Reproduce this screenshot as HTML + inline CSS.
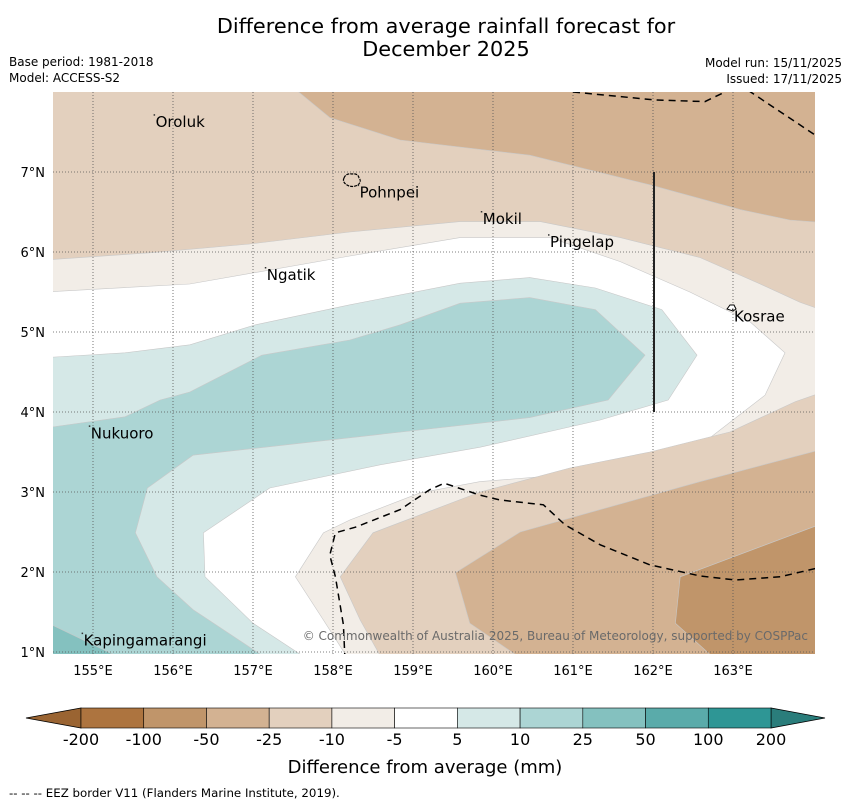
<!DOCTYPE html>
<html><head><meta charset="utf-8">
<style>
body{margin:0;background:#fff;font-family:"DejaVu Sans","Liberation Sans",sans-serif;}
#wrap{position:relative;width:850px;height:804px;overflow:hidden;}
svg text{font-family:"DejaVu Sans","Liberation Sans",sans-serif;}
</style></head>
<body>
<div id="wrap">
<svg id="svg" width="850" height="804" viewBox="0 0 850 804">
<text x="446" y="33" font-size="20.8" text-anchor="middle">Difference from average rainfall forecast for</text>
<text x="446" y="56" font-size="20.8" text-anchor="middle">December 2025</text>
<text x="9" y="66" font-size="12">Base period: 1981-2018</text>
<text x="9" y="82" font-size="12">Model: ACCESS-S2</text>
<text x="842" y="67" font-size="12" text-anchor="end">Model run: 15/11/2025</text>
<text x="842" y="83" font-size="12" text-anchor="end">Issued: 17/11/2025</text>
<defs><clipPath id="plotclip"><rect x="53" y="92" width="762" height="562"/></clipPath></defs>
<g id="map" clip-path="url(#plotclip)"></g>
<g id="axes"></g>
<g id="cbar"></g>
<text x="425" y="773" font-size="18" text-anchor="middle">Difference from average (mm)</text>
<text x="9" y="797" font-size="11.8">--  --  -- EEZ border V11 (Flanders Marine Institute, 2019).</text>
</svg>
</div>
<script>
// Data
const lonTicks = [155,156,157,158,159,160,161,162,163];
const latTicks = [1,2,3,4,5,6,7];
const levelLabels = ["-200","-100","-50","-25","-10","-5","5","10","25","50","100","200"];
const levelColors = ["#ad743f","#c0956a","#d3b292","#e3d0be","#f2ede7","#ffffff","#d5e8e7","#acd5d4","#84c1bf","#5aabaa","#2e9695"];
const regionFill = {"-10":"#f2ede7","-5to5":"#ffffff","5":"#d5e8e7","10":"#acd5d4","25":"#84c1bf","-25":"#e3d0be","-50":"#d3b292","-100":"#c0956a"};
const regionTan10 = [[154.4,0.9],[154.4,8.1],[164.1,8.1],[164.1,0.9]];
const regionWhite = [[154.4,5.5],[156.21,5.6],[158.21,5.95],[159.59,6.18],[160.71,6.18],[161.59,5.88],[162.46,5.5],[163.21,5.13],[163.65,4.74],[163.4,4.21],[162.65,3.63],[161.59,3.38],[160.59,3.19],[159.84,3.13],[159.09,2.99],[158.21,2.65],[157.88,2.49],[157.53,1.94],[157.88,1.4],[158.2,0.9],[154.4,0.9]];
const regionTeal5 = [[154.4,4.68],[155.4,4.74],[156.21,4.84],[157.03,5.09],[158.21,5.34],[159.59,5.61],[160.46,5.68],[161.28,5.55],[162.11,5.28],[162.55,4.71],[162.19,4.15],[161.34,3.9],[159.84,3.56],[158.59,3.34],[157.21,3.05],[156.38,2.49],[156.4,1.94],[157.0,1.36],[157.7,0.9],[154.4,0.9]];
const regionTeal10 = [[154.4,3.8],[155.4,3.94],[155.84,4.15],[156.21,4.25],[157.11,4.71],[158.21,4.9],[158.84,5.09],[159.59,5.36],[160.46,5.43],[161.28,5.28],[161.9,4.71],[161.44,4.15],[160.46,3.93],[159.84,3.86],[156.25,3.46],[155.68,3.05],[155.53,2.49],[155.8,1.94],[156.25,1.53],[157.2,0.9],[154.4,0.9]];
const regionTeal25 = [[154.4,1.38],[155.4,0.9],[154.4,0.9]];
const regionTan25N = [[154.4,8.1],[164.1,8.1],[164.1,5.28],[163.84,5.37],[163.34,5.6],[162.59,5.93],[161.59,6.18],[160.59,6.38],[159.59,6.38],[158.21,6.25],[156.96,6.1],[155.71,5.99],[154.4,5.9]];
const regionTan25S = [[164.1,4.24],[163.78,4.13],[162.96,3.75],[161.96,3.5],[160.96,3.3],[159.84,3.0],[158.5,2.49],[158.09,1.94],[158.34,1.4],[158.62,0.9],[164.1,0.9]];
const regionTan50N = [[157.45,8.1],[157.96,7.68],[158.84,7.4],[160.46,7.21],[161.96,6.84],[163.09,6.53],[163.71,6.4],[164.1,6.37],[164.1,8.1]];
const regionTan50S = [[159.53,1.99],[160.34,2.5],[161.34,2.78],[162.59,3.13],[164.1,3.53],[164.1,0.9],[160.38,0.9],[159.71,1.36]];
const regionTan100 = [[162.34,1.94],[164.1,2.6],[164.1,0.9],[162.79,0.9],[162.28,1.36]];
const eezTop1 = [[161.0,8.0],[162.03,7.9],[162.65,7.88],[162.94,8.02]];
const eezTop2 = [[163.19,8.02],[164.03,7.46]];
const eezSouth = [[158.15,0.9],[158.13,1.34],[158.03,1.94],[157.96,2.21],[158.03,2.49],[158.28,2.56],[158.84,2.78],[159.21,3.03],[159.39,3.11],[159.84,2.96],[160.09,2.9],[160.63,2.84],[160.9,2.59],[161.34,2.34],[161.96,2.09],[162.59,1.95],[163.03,1.9],[163.59,1.94],[164.1,2.06]];
const islandNames = ["Oroluk","Pohnpei","Mokil","Pingelap","Ngatik","Kosrae","Nukuoro","Kapingamarangi"];
const islandLon = [155.77,158.32,159.86,160.7,157.16,163.0,154.96,154.87];
const islandLat = [7.71,6.83,6.5,6.21,5.8,5.28,3.82,1.23];

const X = lon => 93 + (lon-155)*80;
const Y = lat => 172 - (lat-7)*80;
const NS = "http://www.w3.org/2000/svg";
function mk(tag, parent, attrs){const e=document.createElementNS(NS,tag);for(const k in attrs)e.setAttribute(k,attrs[k]);parent.appendChild(e);return e;}
const pts = arr => arr.map(p=>X(p[0]).toFixed(1)+","+Y(p[1]).toFixed(1)).join(" ");

const map=document.getElementById('map');
const regions=[[regionTan10,"-10","region-minus10"],[regionWhite,"-5to5","region-near-average"],[regionTeal5,"5","region-plus5"],[regionTeal10,"10","region-plus10"],[regionTeal25,"25","region-plus25"],[regionTan25N,"-25","region-minus25-north"],[regionTan25S,"-25","region-minus25-south"],[regionTan50N,"-50","region-minus50-north"],[regionTan50S,"-50","region-minus50-south"],[regionTan100,"-100","region-minus100"]];
regions.forEach(r=>{
  const p=mk('polygon',map,{points:pts(r[0]),fill:regionFill[r[1]],stroke:"#c8c8c8","stroke-width":"0.6"});
  
  
});
lonTicks.forEach(l=>{const g=mk('line',map,{x1:X(l),x2:X(l),y1:92,y2:654,stroke:"#555","stroke-width":"0.8","stroke-dasharray":"1,2"});
  
  });
latTicks.forEach(l=>{const g=mk('line',map,{x1:53,x2:815,y1:Y(l),y2:Y(l),stroke:"#555","stroke-width":"0.8","stroke-dasharray":"1,2"});
  
  });
[[eezTop1,'eez-border-north'],[eezTop2,'eez-border-northeast'],[eezSouth,'eez-border-south']].forEach(e=>{
  const l=mk('polyline',map,{points:pts(e[0]),fill:"none",stroke:"#000","stroke-width":"1.5","stroke-dasharray":"7,5"});
  
  
});
const vl=mk('line',map,{x1:X(162)+1,x2:X(162)+1,y1:Y(7),y2:Y(4),stroke:"#222","stroke-width":"2"});


const pohn=mk('path',map,{d:"M344,178 q2,-5 8,-4 q6,-1 7,4 q3,3 -1,7 q-6,3 -11,0 q-5,-3 -3,-7z",fill:"none",stroke:"#000","stroke-width":"1.2","stroke-dasharray":"3,1"});


const kos=mk('path',map,{d:"M727,309 l3,-4 l4,0 l2,4 l-3,2z",fill:"#fff",stroke:"#000","stroke-width":"1"});


islandNames.forEach((n,i)=>{
  const d=mk('rect',map,{x:X(islandLon[i])-1,y:Y(islandLat[i])-1,width:1.5,height:1.5,fill:"#333"});
  
  
  const t=mk('text',map,{x:X(islandLon[i])+1,y:Y(islandLat[i])+12,"font-size":"15",fill:"#000"});
  t.textContent=n;
  
  
});
const cp=mk('text',map,{x:808,y:640,"font-size":"12","text-anchor":"end",fill:"#6a6a6a"});
cp.textContent="© Commonwealth of Australia 2025, Bureau of Meteorology, supported by COSPPac";



const ax=document.getElementById('axes');
lonTicks.forEach(l=>{const t=mk('text',ax,{x:X(l),y:675,"font-size":"13","text-anchor":"middle"});t.textContent=l+"°E";
  
  });
latTicks.forEach(l=>{const t=mk('text',ax,{x:45,y:Y(l)+5,"font-size":"13","text-anchor":"end"});t.textContent=l+"°N";
  
  });

const cb=document.getElementById('cbar');
const cx0=81, cx1=771, cy=708, ch=20, n=levelColors.length, sw=(cx1-cx0)/n;
const lt=mk('polygon',cb,{points:`26,${cy+ch/2} ${cx0},${cy} ${cx0},${cy+ch}`,fill:"#9a6432",stroke:"#000","stroke-width":"0.8"});


const rt=mk('polygon',cb,{points:`825,${cy+ch/2} ${cx1},${cy} ${cx1},${cy+ch}`,fill:"#2a7d7b",stroke:"#000","stroke-width":"0.8"});


levelColors.forEach((c,i)=>{const r=mk('rect',cb,{x:cx0+i*sw,y:cy,width:sw,height:ch,fill:c,stroke:"#000","stroke-width":"0.6"});
  
  });
levelLabels.forEach((s,i)=>{const t=mk('text',cb,{x:cx0+i*sw,y:745,"font-size":"16","text-anchor":"middle"});t.textContent=s;
  
  });
</script>
</body></html>
